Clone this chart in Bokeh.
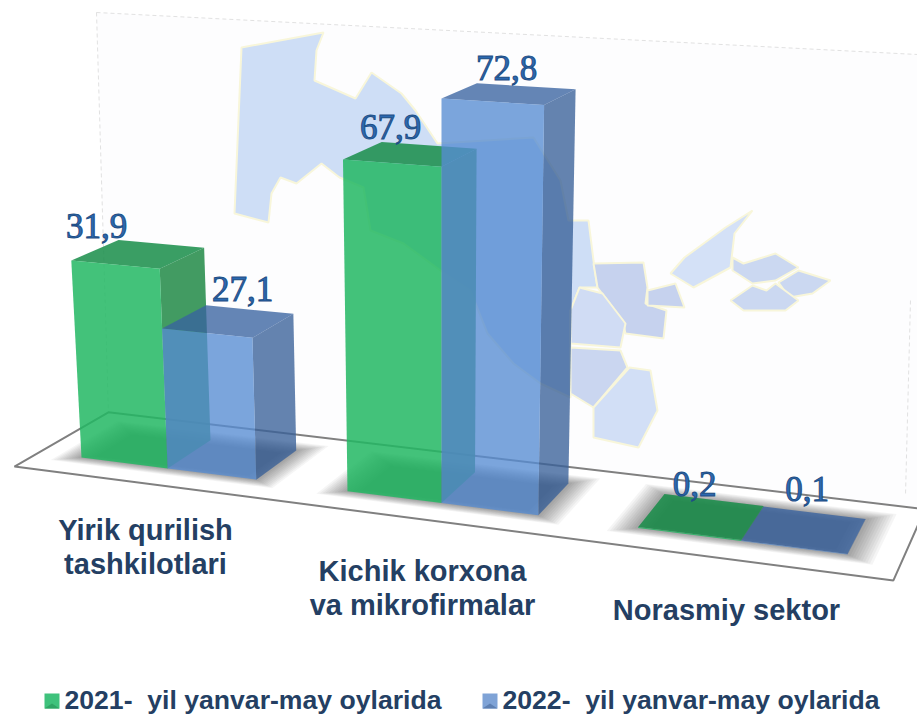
import numpy as np
from bokeh.core.properties import value
from bokeh.embed import file_html
from bokeh.models import ColumnDataSource, Range1d
from bokeh.plotting import figure
from bokeh.resources import INLINE

# ---- data
categories = [["Yirik qurilish", "tashkilotlari"], ["Kichik korxona", "va mikrofirmalar"], ["Norasmiy sektor"]]
series_names = ["2021-\u00a0 yil yanvar-may oylarida", "2022-\u00a0 yil yanvar-may oylarida"]
values_2021 = [31.9, 67.9, 0.2]
values_2022 = [27.1, 72.8, 0.1]
# the drawn value axis of the reference is not linear: value -> drawn height
axis_values = [0, 27.1, 31.9, 67.9, 72.8]
axis_heights = [0, 144.4, 204.2, 324.6, 386.8]

# ---- layout
W, H = 917, 714
OX, OY = 0, 0
FONT_NUM = "Liberation Serif"
FONT_TXT = "Liberation Sans"


def project(t, d, h=0.0):
    """Perspective projection: t along the categories, d depth, h height."""
    w = -0.01416 * t + 0.04015 * d + 1 - 0.000135 * h
    x = (83.75 * t + 50.7 * d + 81 - 0.0595 * h) / w
    y = (4.28 * t - 10.2 * d + 457 - h) / w
    return float(x), float(y)


def quad(points):
    xy = [project(*pt) for pt in points]
    return [q[0] for q in xy], [q[1] for q in xy]


def height(v):
    return float(np.interp(v, axis_values, axis_heights))


p = figure(width=W, height=H, x_range=Range1d(OX, OX + W), y_range=Range1d(OY + H, OY),
           output_backend="svg", toolbar_location=None, min_border=0,
           background_fill_color="white", border_fill_color="white", outline_line_color=None)
p.xaxis.visible = False
p.yaxis.visible = False
p.xgrid.visible = False
p.ygrid.visible = False

# ---- back wall
fx0, fy0 = project(-0.5, 1.5)
fx1, fy1 = project(8.5, 1.5)
p.patch([96, 917, 917, fx1, fx0], [12, 54, fy1, fy1, fy0], fill_color="#FDFDFE", line_color=None)
p.multi_line([[96, 917], [96, fx0], [910, 905]], [[12, 54], [12, fy0], [300, 495]],
             line_color="#D4D4D4", line_width=1, line_dash="4 3", line_alpha=0.7)

# ---- faint map on the wall
map_regions = [
    ([241, 323, 316, 314, 355, 371, 401, 415, 437, 533, 560, 568, 588, 593, 597, 579, 570, 570, 540, 513, 487, 470,
      440, 403, 370, 363, 339, 321, 296, 280, 271, 268, 234],
     [47, 32, 50, 80, 98, 72, 93, 110, 143, 137, 180, 220, 220, 260, 287, 287, 310, 397, 383, 363, 333, 290,
      270, 243, 230, 187, 177, 163, 183, 177, 193, 222, 213], "#CEDEF6"),
    ([593, 643, 647, 645, 666, 663, 625, 622, 597], [263, 262, 287, 303, 310, 338, 333, 320, 287], "#C6D2EE"),
    ([570, 579, 602, 625, 620, 570], [310, 287, 293, 323, 347, 343], "#D0DCF4"),
    ([570, 620, 627, 593, 570], [347, 350, 367, 407, 393], "#CAD6F0"),
    ([593, 629, 650, 657, 638, 593], [407, 367, 370, 410, 447, 437], "#D2DFF6"),
    ([647, 675, 684, 647], [290, 283, 307, 305], "#C6D2EE"),
    ([670, 684, 725, 752, 734, 730, 693], [273, 257, 227, 210, 233, 267, 287], "#D4E1F7"),
    ([732, 743, 775, 798, 775, 752, 732], [257, 263, 253, 267, 280, 283, 270], "#CBD8F1"),
    ([778, 798, 830, 812, 789], [282, 270, 280, 293, 297], "#CBD8F1"),
    ([730, 752, 766, 775, 798, 785, 743], [300, 285, 290, 283, 300, 310, 310], "#CBD8F1"),
]
p.patches([r[0] for r in map_regions], [r[1] for r in map_regions], fill_color=[r[2] for r in map_regions],
          line_color="#F8F6DA", line_width=2)

# ---- floor
fxs, fys = quad([(-0.5, -0.5), (8.5, -0.5), (8.5, 1.5), (-0.5, 1.5)])
p.patch(fxs, fys, fill_color="white", line_color="#808080", line_width=2)

# ---- soft floor shadows
for e in np.linspace(0.26, -0.12, 16):
    sx, sy = [], []
    for i in range(len(categories)):
        t0 = 3 * i
        a, b = quad([(t0 - e, -e * 0.7), (t0 + 2 + e, -e * 0.7), (t0 + 2 + e, 1 + e), (t0 - e, 1 + e)])
        sx.append(a)
        sy.append(b)
    p.patches(sx, sy, fill_color="black", fill_alpha=0.04, line_color=None)

# ---- bars, back to front
styles = [
    dict(front="#22B763", top="#178D49", side="#218947", alpha=0.85),
    dict(front="#568CD2", top="#3863A0", side="#386098", alpha=0.78),
]
xs, ys, cols, alphas = [], [], [], []
tops = []
for i in range(len(categories)):
    for s, vals in enumerate([values_2021, values_2022]):
        t = 3 * i + s
        h = height(vals[i])
        st = styles[s]
        faces = [
            ([(t + 1, 0, 0), (t + 1, 1, 0), (t + 1, 1, h), (t + 1, 0, h)], st["side"]),
            ([(t, 0, h), (t + 1, 0, h), (t + 1, 1, h), (t, 1, h)], st["top"]),
            ([(t, 0, 0), (t + 1, 0, 0), (t + 1, 0, h), (t, 0, h)], st["front"]),
        ]
        for pts, col in faces:
            a, b = quad(pts)
            xs.append(a)
            ys.append(b)
            cols.append(col)
            alphas.append(st["alpha"])
        tops.append(project(t + 0.5, 0.5, h))
p.patches(xs, ys, fill_color=cols, fill_alpha=alphas, line_color=None)

# ---- value labels (0.36 em: the SVG backend draws alphabetic text that much low)
label_vals = [values_2021[0], values_2022[0], values_2021[1], values_2022[1], values_2021[2], values_2022[2]]
label_dx = [-42, 14, -20, -3, -7, 3]
label_dy = [-28, -32, -27, -26, -32, -41]
lab = ColumnDataSource(dict(
    x=[c[0] + dx for c, dx in zip(tops, label_dx)],
    y=[c[1] + dy for c, dy in zip(tops, label_dy)],
    text=[f"{v:.1f}".replace(".", ",") for v in label_vals],
))
p.text("x", "y", "text", source=lab, text_font=value(FONT_NUM), text_font_size=value("35px"),
       text_color="#2C69B0", text_align="center", text_baseline="alphabetic",
       text_outline_color="#1F4E85")

# ---- category labels
cat_x = [145, 422, 726]
cat_y = [529, 570, 609]
tx, ty, tt = [], [], []
for cx, cy, lines in zip(cat_x, cat_y, categories):
    for n, line in enumerate(lines):
        tx.append(cx)
        ty.append(cy + 34 * n)
        tt.append(line)
p.text(tx, ty, text=tt, text_font=value(FONT_TXT), text_font_size=value("29px"), text_font_style="bold",
       text_color="#243F63", text_align="center", text_baseline="alphabetic")

# ---- legend
leg_sw = [44, 482]
leg_tx = [64, 502]
leg_cols = [("#3FC27C", "#2FA565"), ("#7FA3D6", "#5E80B2")]
for x0, tx0, name, (c, dark) in zip(leg_sw, leg_tx, series_names, leg_cols):
    p.patch([x0, x0 + 15, x0 + 15, x0], [693, 693, 708, 708], fill_color=c, line_color=None)
    p.patch([x0, x0 + 15, x0 + 7.5], [708, 708, 703], fill_color=dark, line_color=None)
    p.text([tx0], [699], text=[name], text_font=value(FONT_TXT), text_font_size=value("26.6px"),
           text_font_style="bold", text_color="#243F63", text_align="left", text_baseline="alphabetic")

open("out.html", "w").write(file_html(p, INLINE))
